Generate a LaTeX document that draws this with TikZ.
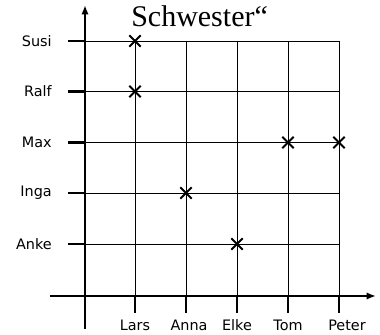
\documentclass[tikz,border=0pt]{standalone}
\usepackage{fontspec}
\setmainfont{Liberation Serif}
\newfontfamily\namefont{DejaVu Sans}
\usetikzlibrary{arrows.meta,shapes.misc}
\tikzset{
  axisline/.style={line width=1.6pt,-{Latex[length=7pt,width=5.5pt]}},
  gridline/.style={line width=0.6pt},
  tickline/.style={line width=1.6pt},
  namelabel/.style={font=\namefont\fontsize{10.8}{12}\selectfont,inner sep=0pt},
  kreuz/.style={cross out,draw=black,line width=1.5pt,minimum size=7pt,inner sep=0pt},
}

\begin{document}
\begin{tikzpicture}[x=0.75pt,y=-0.75pt]
  \useasboundingbox (0,0) rectangle (380,335);

  % grid
  \foreach \y in {41,91.5,142.5,193,244}{
    \draw[gridline] (85,\y) -- (339,\y);
    \draw[tickline] (68,\y) -- (85,\y);
  }
  \foreach \x in {135,186,237,288,339}{
    \draw[gridline] (\x,41) -- (\x,296);
    \draw[tickline] (\x,296) -- (\x,313);
  }

  % axes
  \coordinate (ystart) at (85,329);
  \coordinate (yend) at (85,5);
  \coordinate (xstart) at (50,296);
  \coordinate (xend) at (376,296);
  \draw[axisline] (ystart) -- (yend);
  \draw[axisline] (xstart) -- (xend);

  \node[anchor=base west,inner sep=0pt,font=\fontsize{22.5}{24}\selectfont] (titel) at (131,27) {Schwester“};

  \node[namelabel,anchor=east] (susi) at (52,41) {Susi};
  \node[namelabel,anchor=east] (ralf) at (52,91.5) {Ralf};
  \node[namelabel,anchor=east] (max) at (52,142.5) {Max};
  \node[namelabel,anchor=east] (inga) at (52,193) {Inga};
  \node[namelabel,anchor=east] (anke) at (52,244) {Anke};

  \node[namelabel] (lars) at (135,325) {Lars};
  \node[namelabel] (anna) at (189,325) {Anna};
  \node[namelabel] (elke) at (237,325) {Elke};
  \node[namelabel] (tom) at (288,325) {Tom};
  \node[namelabel] (peter) at (347,325) {Peter};

  \node[kreuz] (k1) at (135,41) {};
  \node[kreuz] (k2) at (135,91.5) {};
  \node[kreuz] (k3) at (288,142.5) {};
  \node[kreuz] (k4) at (339,142.5) {};
  \node[kreuz] (k5) at (186,193) {};
  \node[kreuz] (k6) at (237,244) {};
\end{tikzpicture}
\end{document}
